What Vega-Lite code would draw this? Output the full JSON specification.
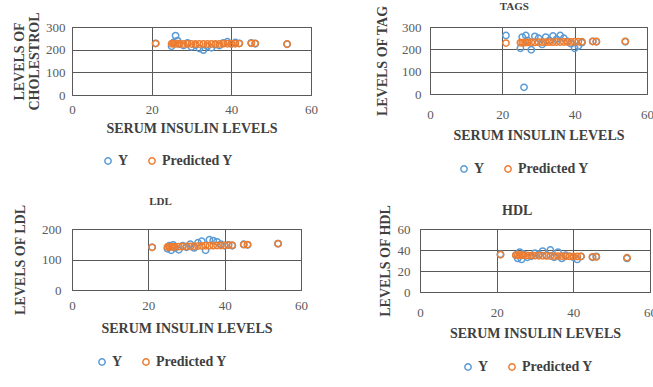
{
  "$schema": "https://vega.github.io/schema/vega-lite/v6.json",
  "background": "white",
  "padding": {"left": 11, "top": 0, "right": 0, "bottom": 0},
  "config": {
    "font": "Liberation Serif",
    "view": {"stroke": "#595959", "strokeWidth": 1},
    "axis": {
      "labelFont": "Liberation Serif", "labelFontSize": 13, "labelColor": "#595959",
      "titleFont": "Liberation Serif", "titleFontSize": 14, "titleFontWeight": "bold", "titleColor": "#404040",
      "grid": true, "gridColor": "#595959", "gridOpacity": 1, "gridWidth": 1,
      "domain": false, "ticks": false, "labelFlush": false, "labelOverlap": false
    },
    "title": {"font": "Liberation Serif", "fontWeight": "bold", "color": "#404040", "anchor": "middle", "frame": "bounds"},
    "legend": {
      "labelFont": "Liberation Serif", "labelFontSize": 14, "labelFontWeight": "bold", "labelColor": "#404040",
      "symbolSize": 40, "symbolStrokeWidth": 1.5, "symbolType": "circle", "columnPadding": 16, "labelOffset": 3
    }
  },
  "data": {"values": [
    {"p":"C","s":"Y","x":21,"v":228},{"p":"C","s":"Y","x":25,"v":215},{"p":"C","s":"Y","x":25.5,"v":232},{"p":"C","s":"Y","x":26,"v":262},{"p":"C","s":"Y","x":26.5,"v":240},{"p":"C","s":"Y","x":27,"v":225},{"p":"C","s":"Y","x":28,"v":218},{"p":"C","s":"Y","x":29,"v":230},{"p":"C","s":"Y","x":30,"v":212},{"p":"C","s":"Y","x":31,"v":220},{"p":"C","s":"Y","x":32,"v":205},{"p":"C","s":"Y","x":33,"v":198},{"p":"C","s":"Y","x":34,"v":215},{"p":"C","s":"Y","x":35,"v":208},{"p":"C","s":"Y","x":36,"v":222},{"p":"C","s":"Y","x":37,"v":218},{"p":"C","s":"Y","x":38,"v":230},{"p":"C","s":"Y","x":39,"v":235},{"p":"C","s":"Y","x":40,"v":225},{"p":"C","s":"Y","x":41,"v":232},{"p":"C","s":"Y","x":42,"v":228},{"p":"C","s":"Y","x":45,"v":230},{"p":"C","s":"Y","x":46,"v":226},{"p":"C","s":"Y","x":54,"v":224},
    {"p":"C","s":"Predicted Y","x":21,"v":227},{"p":"C","s":"Predicted Y","x":25,"v":226},{"p":"C","s":"Predicted Y","x":25.5,"v":226},{"p":"C","s":"Predicted Y","x":26,"v":226},{"p":"C","s":"Predicted Y","x":26.5,"v":226},{"p":"C","s":"Predicted Y","x":27,"v":226},{"p":"C","s":"Predicted Y","x":28,"v":225},{"p":"C","s":"Predicted Y","x":29,"v":225},{"p":"C","s":"Predicted Y","x":30,"v":225},{"p":"C","s":"Predicted Y","x":31,"v":225},{"p":"C","s":"Predicted Y","x":32,"v":225},{"p":"C","s":"Predicted Y","x":33,"v":225},{"p":"C","s":"Predicted Y","x":34,"v":225},{"p":"C","s":"Predicted Y","x":35,"v":225},{"p":"C","s":"Predicted Y","x":36,"v":225},{"p":"C","s":"Predicted Y","x":37,"v":225},{"p":"C","s":"Predicted Y","x":38,"v":226},{"p":"C","s":"Predicted Y","x":39,"v":226},{"p":"C","s":"Predicted Y","x":40,"v":226},{"p":"C","s":"Predicted Y","x":41,"v":226},{"p":"C","s":"Predicted Y","x":42,"v":227},{"p":"C","s":"Predicted Y","x":45,"v":228},{"p":"C","s":"Predicted Y","x":46,"v":228},{"p":"C","s":"Predicted Y","x":54,"v":225},

    {"p":"T","s":"Y","x":21,"v":262},{"p":"T","s":"Y","x":25,"v":205},{"p":"T","s":"Y","x":25.5,"v":255},{"p":"T","s":"Y","x":26,"v":30},{"p":"T","s":"Y","x":26.5,"v":262},{"p":"T","s":"Y","x":27,"v":240},{"p":"T","s":"Y","x":28,"v":198},{"p":"T","s":"Y","x":29,"v":258},{"p":"T","s":"Y","x":30,"v":250},{"p":"T","s":"Y","x":31,"v":222},{"p":"T","s":"Y","x":32,"v":255},{"p":"T","s":"Y","x":33,"v":240},{"p":"T","s":"Y","x":34,"v":260},{"p":"T","s":"Y","x":35,"v":245},{"p":"T","s":"Y","x":36,"v":262},{"p":"T","s":"Y","x":37,"v":250},{"p":"T","s":"Y","x":38,"v":236},{"p":"T","s":"Y","x":39,"v":225},{"p":"T","s":"Y","x":40,"v":205},{"p":"T","s":"Y","x":41,"v":215},{"p":"T","s":"Y","x":42,"v":230},{"p":"T","s":"Y","x":45,"v":236},{"p":"T","s":"Y","x":46,"v":234},{"p":"T","s":"Y","x":54,"v":234},
    {"p":"T","s":"Predicted Y","x":21,"v":228},{"p":"T","s":"Predicted Y","x":25,"v":230},{"p":"T","s":"Predicted Y","x":25.5,"v":230},{"p":"T","s":"Predicted Y","x":26,"v":230},{"p":"T","s":"Predicted Y","x":26.5,"v":231},{"p":"T","s":"Predicted Y","x":27,"v":231},{"p":"T","s":"Predicted Y","x":28,"v":231},{"p":"T","s":"Predicted Y","x":29,"v":231},{"p":"T","s":"Predicted Y","x":30,"v":232},{"p":"T","s":"Predicted Y","x":31,"v":232},{"p":"T","s":"Predicted Y","x":32,"v":232},{"p":"T","s":"Predicted Y","x":33,"v":232},{"p":"T","s":"Predicted Y","x":34,"v":232},{"p":"T","s":"Predicted Y","x":35,"v":233},{"p":"T","s":"Predicted Y","x":36,"v":233},{"p":"T","s":"Predicted Y","x":37,"v":233},{"p":"T","s":"Predicted Y","x":38,"v":233},{"p":"T","s":"Predicted Y","x":39,"v":233},{"p":"T","s":"Predicted Y","x":40,"v":234},{"p":"T","s":"Predicted Y","x":41,"v":234},{"p":"T","s":"Predicted Y","x":42,"v":234},{"p":"T","s":"Predicted Y","x":45,"v":235},{"p":"T","s":"Predicted Y","x":46,"v":235},{"p":"T","s":"Predicted Y","x":54,"v":236},

    {"p":"L","s":"Y","x":21,"v":140},{"p":"L","s":"Y","x":25,"v":135},{"p":"L","s":"Y","x":25.5,"v":145},{"p":"L","s":"Y","x":26,"v":130},{"p":"L","s":"Y","x":26.5,"v":148},{"p":"L","s":"Y","x":27,"v":138},{"p":"L","s":"Y","x":28,"v":132},{"p":"L","s":"Y","x":29,"v":145},{"p":"L","s":"Y","x":30,"v":140},{"p":"L","s":"Y","x":31,"v":150},{"p":"L","s":"Y","x":32,"v":138},{"p":"L","s":"Y","x":33,"v":155},{"p":"L","s":"Y","x":34,"v":160},{"p":"L","s":"Y","x":35,"v":130},{"p":"L","s":"Y","x":36,"v":165},{"p":"L","s":"Y","x":37,"v":162},{"p":"L","s":"Y","x":38,"v":158},{"p":"L","s":"Y","x":39,"v":150},{"p":"L","s":"Y","x":40,"v":145},{"p":"L","s":"Y","x":41,"v":148},{"p":"L","s":"Y","x":42,"v":145},{"p":"L","s":"Y","x":45,"v":150},{"p":"L","s":"Y","x":46,"v":148},{"p":"L","s":"Y","x":54,"v":152},
    {"p":"L","s":"Predicted Y","x":21,"v":140},{"p":"L","s":"Predicted Y","x":25,"v":141},{"p":"L","s":"Predicted Y","x":25.5,"v":141},{"p":"L","s":"Predicted Y","x":26,"v":141.5},{"p":"L","s":"Predicted Y","x":26.5,"v":141.5},{"p":"L","s":"Predicted Y","x":27,"v":142},{"p":"L","s":"Predicted Y","x":28,"v":142},{"p":"L","s":"Predicted Y","x":29,"v":142.5},{"p":"L","s":"Predicted Y","x":30,"v":143},{"p":"L","s":"Predicted Y","x":31,"v":143},{"p":"L","s":"Predicted Y","x":32,"v":143.5},{"p":"L","s":"Predicted Y","x":33,"v":144},{"p":"L","s":"Predicted Y","x":34,"v":144.5},{"p":"L","s":"Predicted Y","x":35,"v":145},{"p":"L","s":"Predicted Y","x":36,"v":145},{"p":"L","s":"Predicted Y","x":37,"v":145.5},{"p":"L","s":"Predicted Y","x":38,"v":146},{"p":"L","s":"Predicted Y","x":39,"v":146},{"p":"L","s":"Predicted Y","x":40,"v":146.5},{"p":"L","s":"Predicted Y","x":41,"v":147},{"p":"L","s":"Predicted Y","x":42,"v":147},{"p":"L","s":"Predicted Y","x":45,"v":148.5},{"p":"L","s":"Predicted Y","x":46,"v":149},{"p":"L","s":"Predicted Y","x":54,"v":152},

    {"p":"H","s":"Y","x":21,"v":36},{"p":"H","s":"Y","x":25,"v":35},{"p":"H","s":"Y","x":25.5,"v":32},{"p":"H","s":"Y","x":26,"v":38},{"p":"H","s":"Y","x":26.5,"v":31},{"p":"H","s":"Y","x":27,"v":36},{"p":"H","s":"Y","x":28,"v":33},{"p":"H","s":"Y","x":29,"v":34},{"p":"H","s":"Y","x":30,"v":37},{"p":"H","s":"Y","x":31,"v":36},{"p":"H","s":"Y","x":32,"v":39},{"p":"H","s":"Y","x":33,"v":35},{"p":"H","s":"Y","x":34,"v":40},{"p":"H","s":"Y","x":35,"v":33},{"p":"H","s":"Y","x":36,"v":38},{"p":"H","s":"Y","x":37,"v":32},{"p":"H","s":"Y","x":38,"v":35},{"p":"H","s":"Y","x":39,"v":34},{"p":"H","s":"Y","x":40,"v":33},{"p":"H","s":"Y","x":41,"v":31},{"p":"H","s":"Y","x":42,"v":34},{"p":"H","s":"Y","x":45,"v":33},{"p":"H","s":"Y","x":46,"v":34},{"p":"H","s":"Y","x":54,"v":32},
    {"p":"H","s":"Predicted Y","x":21,"v":35.5},{"p":"H","s":"Predicted Y","x":25,"v":35},{"p":"H","s":"Predicted Y","x":25.5,"v":35},{"p":"H","s":"Predicted Y","x":26,"v":35},{"p":"H","s":"Predicted Y","x":26.5,"v":35},{"p":"H","s":"Predicted Y","x":27,"v":34.8},{"p":"H","s":"Predicted Y","x":28,"v":34.8},{"p":"H","s":"Predicted Y","x":29,"v":34.7},{"p":"H","s":"Predicted Y","x":30,"v":34.6},{"p":"H","s":"Predicted Y","x":31,"v":34.5},{"p":"H","s":"Predicted Y","x":32,"v":34.5},{"p":"H","s":"Predicted Y","x":33,"v":34.4},{"p":"H","s":"Predicted Y","x":34,"v":34.3},{"p":"H","s":"Predicted Y","x":35,"v":34.2},{"p":"H","s":"Predicted Y","x":36,"v":34.2},{"p":"H","s":"Predicted Y","x":37,"v":34.1},{"p":"H","s":"Predicted Y","x":38,"v":34},{"p":"H","s":"Predicted Y","x":39,"v":34},{"p":"H","s":"Predicted Y","x":40,"v":33.9},{"p":"H","s":"Predicted Y","x":41,"v":33.8},{"p":"H","s":"Predicted Y","x":42,"v":33.8},{"p":"H","s":"Predicted Y","x":45,"v":33.5},{"p":"H","s":"Predicted Y","x":46,"v":33.4},{"p":"H","s":"Predicted Y","x":54,"v":32.7}
  ]},
  "spacing": 18,
  "resolve": {"scale": {"color": "independent"}, "legend": {"color": "independent"}},
  "vconcat": [
    {
      "spacing": 56,
      "resolve": {"scale": {"color": "independent"}, "legend": {"color": "independent"}},
      "hconcat": [
        {
          "width": 239, "height": 68,
          "transform": [{"filter": "datum.p == 'C'"}],
          "mark": {"type": "point", "filled": false, "size": 40, "strokeWidth": 1.5, "opacity": 1},
          "encoding": {
            "x": {"field": "x", "type": "quantitative", "scale": {"domain": [0, 60]},
                  "axis": {"values": [0, 20, 40, 60], "title": "SERUM INSULIN LEVELS", "labelPadding": 8.5, "titlePadding": 4.5}},
            "y": {"field": "v", "type": "quantitative", "scale": {"domain": [0, 300]},
                  "axis": {"values": [0, 100, 200, 300], "title": ["LEVELS OF", "CHOLESTROL"], "titleLineHeight": 15, "labelPadding": 7, "titlePadding": 4.5}},
            "color": {"field": "s", "type": "nominal", "scale": {"domain": ["Y", "Predicted Y"], "range": ["#5B9BD5", "#ED7D31"]},
                      "legend": {"orient": "none", "direction": "horizontal", "legendX": 29, "legendY": 127, "title": null}}
          }
        },
        {
          "width": 217, "height": 67,
          "title": {"text": "TAGS", "fontSize": 11, "offset": -7},
          "transform": [{"filter": "datum.p == 'T'"}],
          "mark": {"type": "point", "filled": false, "size": 40, "strokeWidth": 1.5, "opacity": 1},
          "encoding": {
            "x": {"field": "x", "type": "quantitative", "scale": {"domain": [0, 60]},
                  "axis": {"values": [0, 20, 40, 60], "title": "SERUM INSULIN LEVELS", "labelPadding": 14.5, "titlePadding": 6.5}},
            "y": {"field": "v", "type": "quantitative", "scale": {"domain": [0, 300]},
                  "axis": {"values": [0, 100, 200, 300], "title": "LEVELS OF TAG", "labelPadding": 9, "titlePadding": 12.5}},
            "color": {"field": "s", "type": "nominal", "scale": {"domain": ["Y", "Predicted Y"], "range": ["#5B9BD5", "#ED7D31"]},
                      "legend": {"orient": "none", "direction": "horizontal", "legendX": 27, "legendY": 135, "title": null}}
          }
        }
      ]
    },
    {
      "spacing": 69,
      "resolve": {"scale": {"color": "independent"}, "legend": {"color": "independent"}},
      "hconcat": [
        {
          "width": 229, "height": 61,
          "title": {"text": "LDL", "fontSize": 11, "offset": -3},
          "transform": [{"filter": "datum.p == 'L'"}],
          "mark": {"type": "point", "filled": false, "size": 40, "strokeWidth": 1.5, "opacity": 1},
          "encoding": {
            "x": {"field": "x", "type": "quantitative", "scale": {"domain": [0, 60]},
                  "axis": {"values": [0, 20, 40, 60], "title": "SERUM INSULIN LEVELS", "labelPadding": 9.5, "titlePadding": 8.5}},
            "y": {"field": "v", "type": "quantitative", "scale": {"domain": [0, 200]},
                  "axis": {"values": [0, 100, 200], "title": "LEVELS OF LDL", "labelPadding": 11, "titlePadding": 14}},
            "color": {"field": "s", "type": "nominal", "scale": {"domain": ["Y", "Predicted Y"], "range": ["#5B9BD5", "#ED7D31"]},
                      "legend": {"orient": "none", "direction": "horizontal", "legendX": 23, "legendY": 126, "title": null}}
          }
        },
        {
          "width": 230, "height": 63,
          "title": {"text": "HDL", "fontSize": 14, "offset": -14},
          "transform": [{"filter": "datum.p == 'H'"}],
          "mark": {"type": "point", "filled": false, "size": 40, "strokeWidth": 1.5, "opacity": 1},
          "encoding": {
            "x": {"field": "x", "type": "quantitative", "scale": {"domain": [0, 60]},
                  "axis": {"values": [0, 20, 40, 60], "title": "SERUM INSULIN LEVELS", "labelPadding": 14.5, "titlePadding": 6.5}},
            "y": {"field": "v", "type": "quantitative", "scale": {"domain": [0, 60]},
                  "axis": {"values": [0, 20, 40, 60], "title": "LEVELS OF HDL", "labelPadding": 10, "titlePadding": 5}},
            "color": {"field": "s", "type": "nominal", "scale": {"domain": ["Y", "Predicted Y"], "range": ["#5B9BD5", "#ED7D31"]},
                      "legend": {"orient": "none", "direction": "horizontal", "legendX": 41, "legendY": 131, "title": null}}
          }
        }
      ]
    }
  ]
}
